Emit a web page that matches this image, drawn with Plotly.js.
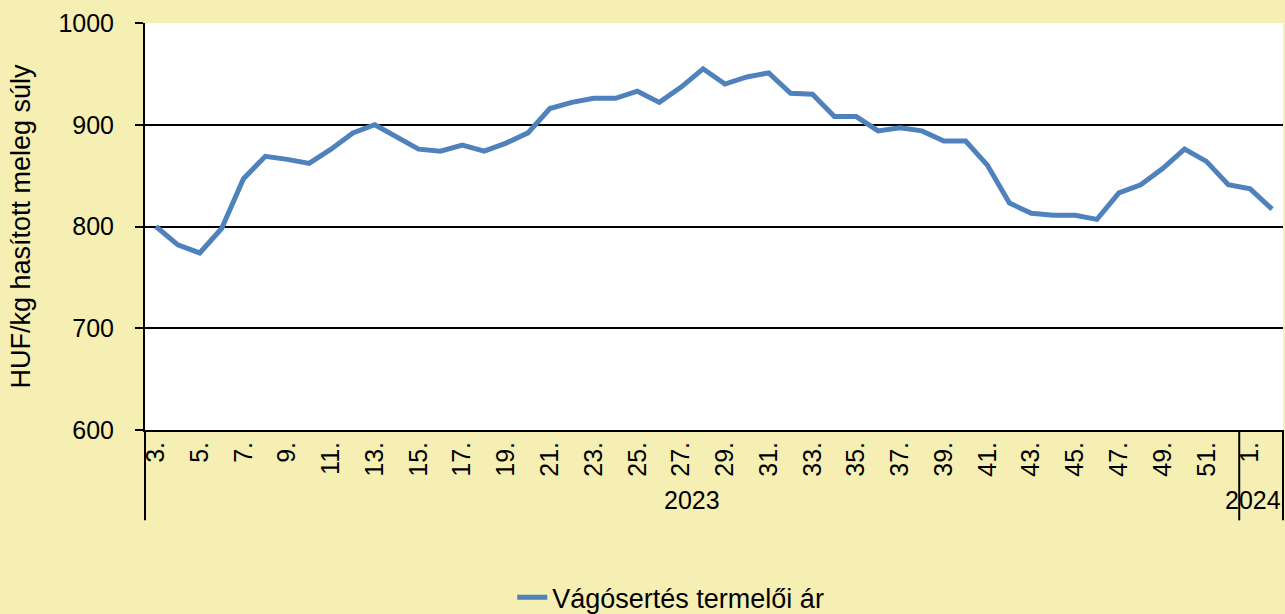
<!DOCTYPE html>
<html>
<head>
<meta charset="utf-8">
<script src="https://cdn.plot.ly/plotly-3.0.1.min.js"></script>
<style>
  html, body { margin: 0; padding: 0; background: #F5EFB4; }
  #chart { width: 1285px; height: 614px; }
</style>
</head>
<body>
<div id="chart"></div>
<script>
const weeks = ["3.","4.","5.","6.","7.","8.","9.","10.","11.","12.","13.","14.","15.","16.","17.","18.","19.","20.",
  "21.","22.","23.","24.","25.","26.","27.","28.","29.","30.","31.","32.","33.","34.","35.","36.","37.","38.","39.","40.",
  "41.","42.","43.","44.","45.","46.","47.","48.","49.","50.","51.","52.","1.","2."];
const years = [2023,2023,2023,2023,2023,2023,2023,2023,2023,2023,2023,2023,2023,2023,2023,2023,2023,2023,
  2023,2023,2023,2023,2023,2023,2023,2023,2023,2023,2023,2023,2023,2023,2023,2023,2023,2023,2023,2023,
  2023,2023,2023,2023,2023,2023,2023,2023,2023,2023,2023,2023,2024,2024];
const prices = [800,782,774,798,847,869,866,862,876,892,900,888,876,874,880,874,882,892,
  916,922,926,926,933,922,937,955,940,947,951,931,930,908,908,894,897,894,884,884,
  860,823,813,811,811,807,833,841,857,876,864,841,837,817];
const yTicks = [600,700,800,900,1000];
const seriesName = "Vágósertés termelői ár";
const yTitle = "HUF/kg hasított meleg súly";

const N = weeks.length;
const tickVals = weeks.filter((w, i) => i % 2 === 0);

// year groups
const groups = [];
years.forEach((y, i) => {
  if (!groups.length || groups[groups.length - 1].year !== y) groups.push({year: y, start: i, end: i});
  else groups[groups.length - 1].end = i;
});

const FONT = "Liberation Sans, Arial, sans-serif";
const shapes = [];
const annotations = [];
const boundaries = [0];
groups.forEach(g => boundaries.push((g.end + 1) / N));
boundaries.forEach(b => {
  shapes.push({type: "line", xref: "paper", yref: "paper", x0: b, x1: b, y0: 0, y1: -0.222,
    line: {color: "#000", width: 2}});
});
groups.forEach((g, gi) => {
  const last = gi === groups.length - 1;
  annotations.push({xref: "paper", yref: "paper",
    x: last ? (g.end + 1) / N : (g.start + g.end + 1) / 2 / N, y: -0.172,
    text: String(g.year), showarrow: false, xanchor: last ? "right" : "center", yanchor: "middle",
    font: {family: FONT, size: 25, color: "#000"}});
});

const trace = {
  x: weeks, y: prices, type: "scatter", mode: "lines", name: seriesName,
  line: {color: "#4F81BD", width: 5}
};

const layout = {
  width: 1285, height: 614,
  paper_bgcolor: "#F5EFB4", plot_bgcolor: "#FFFFFF",
  margin: {l: 145, r: 2, t: 23, b: 184, autoexpand: false},
  font: {family: FONT, size: 25, color: "#000"},
  showlegend: true,
  legend: {orientation: "h", xref: "paper", x: 0.462, xanchor: "center", y: -0.352, yanchor: "top",
    font: {family: FONT, size: 27, color: "#000"}, bgcolor: "rgba(0,0,0,0)"},
  xaxis: {
    type: "category", range: [-0.5, N - 0.5], tickmode: "array", tickvals: tickVals, ticktext: tickVals,
    tickangle: -90, ticks: "", showgrid: false, zeroline: false,
    showline: true, linecolor: "#000", linewidth: 2,
    tickfont: {family: FONT, size: 25, color: "#000"}, automargin: false
  },
  yaxis: {
    range: [600, 1000], tickmode: "array", tickvals: yTicks,
    ticks: "outside", ticklen: 8, tickwidth: 2, tickcolor: "#000",
    ticklabelstandoff: 16,
    showgrid: true, gridcolor: "#000", gridwidth: 2, zeroline: false,
    showline: true, linecolor: "#000", linewidth: 2,
    tickfont: {family: FONT, size: 25, color: "#000"}, automargin: false,
    title: {text: yTitle, font: {family: FONT, size: 27, color: "#000"}, standoff: 20}
  },
  shapes: shapes,
  annotations: annotations
};

Plotly.newPlot("chart", [trace], layout, {displayModeBar: false, staticPlot: true});
</script>
</body>
</html>
